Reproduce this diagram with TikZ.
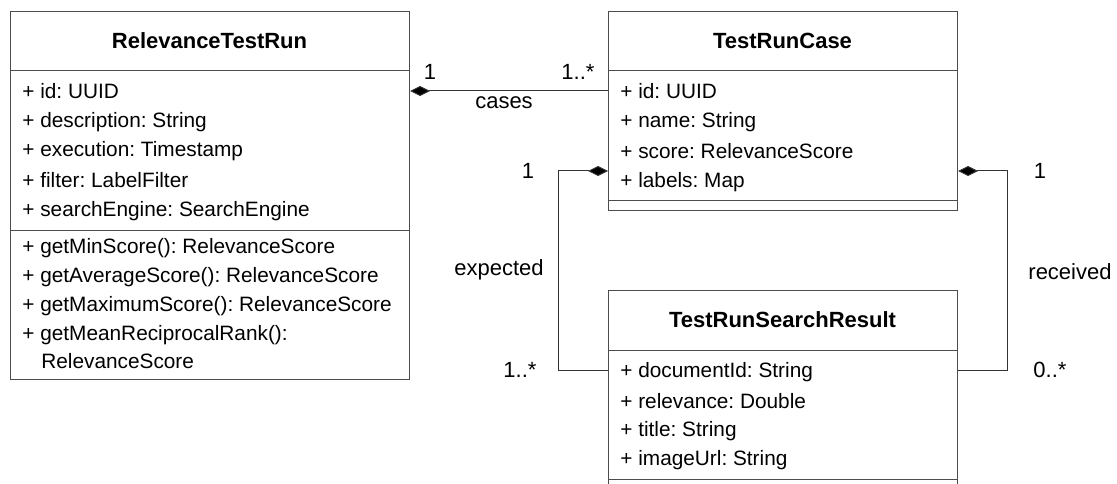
\documentclass[tikz,border=0pt]{standalone}
\usepackage{fontspec}
\setmainfont{Liberation Sans}
\usetikzlibrary{arrows.meta}
\frenchspacing

\begin{document}
\begin{tikzpicture}[x=1pt, y=-1pt, thick,
    classbox/.style={draw=black!70, line width=1pt, anchor=north west, inner sep=0pt},
    member/.style={anchor=base west, inner sep=0pt, font=\fontsize{20.8}{24}\selectfont},
    cname/.style={anchor=base, inner sep=0pt, font=\fontsize{22}{26}\selectfont\bfseries},
    mult/.style={inner sep=0pt, font=\fontsize{22}{26}\selectfont},
    assoc/.style={draw=black!80, line width=1pt},
    comp/.style={assoc, {Diamond[length=20pt, width=10pt, fill=black]}-}]
            \useasboundingbox (0,0) rectangle (1117,484);

            % classes
            \node[classbox, minimum width=399pt, minimum height=368pt] (run) at (10,11) {};
            \node[classbox, minimum width=349pt, minimum height=199pt] (case) at (608,11) {};
            \node[classbox, minimum width=349pt, minimum height=210pt] (result) at (608,290) {};

            \draw[black!70, line width=1pt] (10,71) -- (409,71);
            \draw[black!70, line width=1pt] (10,230) -- (409,230);
            \draw[black!70, line width=1pt] (608,71) -- (957,71);
            \draw[black!70, line width=1pt] (608,200) -- (957,200);
            \draw[black!70, line width=1pt] (608,350) -- (957,350);
            \draw[black!70, line width=1pt] (608,479) -- (957,479);

            \node[cname] (runT) at (209.5,49) {RelevanceTestRun};
            \node[member] (runA1) at (22,99) {+ id: UUID};
            \node[member] (runA2) at (22,128) {+ description: String};
            \node[member] (runA3) at (22,157) {+ execution: Timestamp};
            \node[member] (runA4) at (22,187) {+ filter: LabelFilter};
            \node[member] (runA5) at (22,216) {+ searchEngine: SearchEngine};
            \node[member] (runM1) at (22,253) {+ getMinScore(): RelevanceScore};
            \node[member] (runM2) at (22,282) {+ getAverageScore(): RelevanceScore};
            \node[member] (runM3) at (22,311) {+ getMaximumScore(): RelevanceScore};
            \node[member] (runM4) at (22,340) {+ getMeanReciprocalRank():};
            \node[member] (runM5) at (41,368) {RelevanceScore};

            \node[cname] (caseT) at (782.5,49) {TestRunCase};
            \node[member] (caseA1) at (620,99) {+ id: UUID};
            \node[member] (caseA2) at (620,128) {+ name: String};
            \node[member] (caseA3) at (620,159) {+ score: RelevanceScore};
            \node[member] (caseA4) at (620,187) {+ labels: Map};

            \node[cname] (resultT) at (782.5,327) {TestRunSearchResult};
            \node[member] (resultA1) at (620,377) {+ documentId: String};
            \node[member] (resultA2) at (620,408) {+ relevance: Double};
            \node[member] (resultA3) at (620,436) {+ title: String};
            \node[member] (resultA4) at (620,465) {+ imageUrl: String};

            % bends
            \coordinate (expTop) at (558,171);
            \coordinate (expBot) at (558,370);
            \coordinate (recTop) at (1007,171);
            \coordinate (recBot) at (1007,370);

            % associations
            \draw[comp] (run.east |- 0,91) -- (case.west |- 0,91);
            \draw[comp] (case.west |- expTop) -- (expTop) -- (expBot) -- (result.west |- expBot);
            \draw[comp] (case.east |- recTop) -- (recTop) -- (recBot) -- (result.east |- recBot);

            \node[mult] (casesM1) at (430,72) {1};
            \node[mult] (casesM2) at (578,72) {1..*};
            \node[mult] (casesL) at (504,103) {cases};
            \node[mult] (expM1) at (528,171) {1};
            \node[mult] (expL) at (499,270) {expected};
            \node[mult] (expM2) at (520,370) {1..*};
            \node[mult] (recM1) at (1040,171) {1};
            \node[mult] (recL) at (1070,272) {received};
            \node[mult] (recM2) at (1050,370) {0..*};
\end{tikzpicture}
\end{document}
